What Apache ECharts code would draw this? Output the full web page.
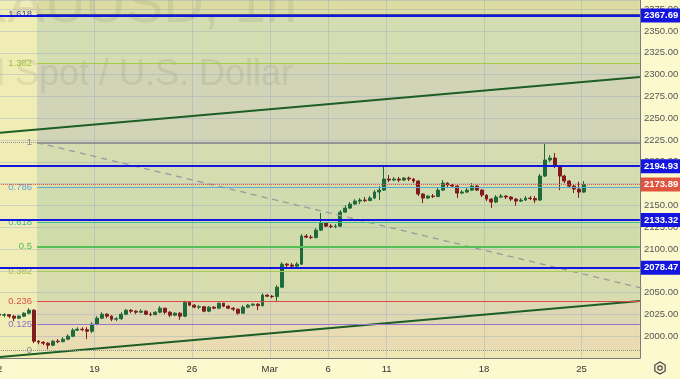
<!DOCTYPE html>
<html><head><meta charset="utf-8">
<script src="https://cdn.jsdelivr.net/npm/echarts@6/dist/echarts.min.js"></script>
<style>html,body{margin:0;padding:0;background:#fdf9ce}#c{width:680px;height:379px}</style>
</head><body><div id="c"></div>
<script>
// ---- data ----
const tickDays   = [0, 5, 10, 14, 17, 20, 25, 30];
const tickLabels = ['12', '19', '26', 'Mar', '6', '11', '18', '25'];
const yTicks = { min: 1975, max: 2385.5, step: 25 };
const SLOTS = 132, SLOTS_PER_DAY = 4;

const opens = [2025.2,2024.1,2024.7,2023.0,2020.7,2023.0,2026.4,2029.8,1994.3,1993.1,
1992.0,1989.7,1994.3,1993.7,1996.6,2000.0,2006.9,2008.0,2007.5,2005.7,
2013.8,2020.7,2025.2,2023.0,2019.5,2020.1,2025.2,2029.8,2028.7,2027.5,
2028.7,2025.2,2024.7,2027.5,2032.1,2027.5,2024.1,2026.4,2023.0,2039.0,
2035.6,2033.3,2033.8,2028.7,2033.3,2032.1,2037.9,2034.4,2032.1,2031.0,
2026.4,2033.3,2035.6,2036.7,2035.0,2047.1,2045.9,2045.4,2056.2,2082.6,
2081.5,2080.3,2082.6,2114.8,2113.6,2113.1,2121.6,2129.7,2126.2,2125.6,
2126.2,2142.3,2146.9,2151.5,2154.9,2156.1,2155.5,2158.4,2165.3,2167.5,
2180.2,2179.0,2180.2,2179.0,2181.3,2180.2,2177.9,2163.0,2158.4,2160.7,
2160.1,2167.5,2175.6,2173.3,2172.1,2164.1,2165.3,2167.5,2172.1,2167.5,
2161.8,2157.2,2153.8,2159.5,2160.7,2159.5,2157.2,2154.9,2156.1,2158.4,
2157.8,2156.1,2183.6,2202.0,2204.3,2195.1,2183.6,2177.9,2172.1,2168.7,
2165.3];
const closes = [2024.1,2024.7,2023.0,2020.7,2023.0,2026.4,2029.8,1994.3,1993.1,1992.0,
1989.7,1994.3,1993.7,1996.6,2000.0,2006.9,2008.0,2007.5,2005.7,2013.8,
2020.7,2025.2,2023.0,2019.5,2020.1,2025.2,2029.8,2028.7,2027.5,2028.7,
2025.2,2024.7,2027.5,2032.1,2027.5,2024.1,2026.4,2023.0,2039.0,2035.6,
2033.3,2033.8,2028.7,2033.3,2032.1,2037.9,2034.4,2032.1,2031.0,2026.4,
2033.3,2035.6,2036.7,2035.0,2047.1,2045.9,2045.4,2056.2,2082.6,2081.5,
2080.3,2082.6,2114.8,2113.6,2113.1,2121.6,2129.7,2126.2,2125.6,2126.2,
2142.3,2146.9,2151.5,2154.9,2156.1,2155.5,2158.4,2165.3,2167.5,2180.2,
2179.0,2180.2,2179.0,2181.3,2180.2,2177.9,2163.0,2158.4,2160.7,2160.1,
2167.5,2175.6,2173.3,2172.1,2164.1,2165.3,2167.5,2172.1,2167.5,2161.8,
2157.2,2153.8,2159.5,2160.7,2159.5,2157.2,2154.9,2156.1,2158.4,2157.8,
2156.1,2183.6,2202.0,2204.3,2195.1,2183.6,2177.9,2172.1,2168.7,2165.3,
2173.89];
const highs = [2026.4,2026.4,2025.2,2024.1,2024.1,2027.5,2032.1,2031.0,1995.4,1994.3,
1993.1,1995.4,1996.6,1998.9,2002.3,2009.2,2010.3,2010.3,2010.3,2016.1,
2023.0,2027.5,2026.4,2024.1,2021.8,2027.5,2031.0,2031.0,2029.8,2031.0,
2029.8,2027.5,2028.7,2034.4,2032.7,2028.7,2027.5,2027.5,2040.7,2040.2,
2036.7,2035.6,2034.4,2034.4,2034.4,2038.4,2038.2,2035.6,2033.3,2031.5,
2035.6,2036.7,2037.9,2037.9,2049.3,2048.2,2047.1,2058.5,2084.9,2083.8,
2083.8,2084.9,2117.1,2117.1,2115.9,2123.9,2141.2,2130.8,2128.5,2128.5,
2144.6,2150.3,2153.8,2157.2,2158.4,2159.5,2160.7,2167.5,2172.1,2195.1,
2184.8,2182.5,2182.5,2182.5,2183.0,2181.3,2179.0,2164.0,2161.8,2163.0,
2169.8,2179.0,2176.5,2174.4,2173.3,2167.5,2169.8,2175.6,2173.3,2168.7,
2162.5,2158.4,2161.8,2163.0,2161.8,2160.7,2158.4,2158.4,2160.7,2160.7,
2160.7,2185.9,2222.0,2207.7,2210.0,2196.0,2185.0,2179.0,2174.4,2177.1,
2177.9];
const lows = [2023.0,2021.8,2020.7,2017.2,2019.5,2021.8,2025.2,1992.0,1990.8,1989.7,
1985.1,1988.5,1992.0,1993.1,1995.4,1998.9,2005.7,2005.7,1996.6,2003.4,
2012.6,2019.5,2020.7,2017.2,2017.2,2018.4,2024.1,2026.4,2025.2,2026.4,
2024.1,2023.0,2024.1,2026.4,2025.2,2021.8,2023.0,2018.9,2021.8,2034.4,
2032.1,2031.0,2027.5,2027.5,2031.0,2031.0,2033.3,2031.0,2028.7,2024.7,
2025.8,2032.1,2034.4,2029.8,2034.0,2044.8,2043.6,2039.0,2055.1,2079.2,
2079.2,2079.2,2081.5,2112.5,2111.3,2112.0,2120.5,2125.1,2123.9,2123.9,
2125.1,2141.2,2145.7,2150.5,2151.5,2153.8,2154.9,2157.2,2156.1,2166.5,
2176.7,2177.9,2176.7,2177.9,2177.9,2175.6,2160.7,2152.6,2157.2,2158.4,
2159.5,2166.4,2171.0,2169.8,2158.4,2163.0,2164.1,2166.4,2166.4,2159.5,
2154.9,2146.9,2152.5,2158.4,2157.2,2154.9,2149.5,2153.8,2155.0,2156.1,
2152.6,2154.9,2182.5,2199.7,2192.8,2167.5,2175.6,2169.8,2164.1,2158.7,
2164.1];

const fibZero = 1983.5, fibOne = 2222.0;
const fibRatios = [0, 0.125, 0.236, 0.382, 0.5, 0.618, 0.786, 1, 1.382, 1.618];
const fibLabels = ['0', '0.125', '0.236', '0.382', '0.5', '0.618', '0.786', '1', '1.382', '1.618'];
const fibAnchorA = [8.2, 2222.0];     // slot, price
const fibAnchorB = [185.7, 1983.5];
const keyLevels = [2367.69, 2194.93, 2133.32, 2078.47];
const lastPrice = 2173.89;
const trendUpper = [[0, 2233.0], [132, 2297.1]];
const trendLower = [[0, 1975.9], [132, 2040.4]];

// ---- styles ----
const fibLineColors  = ['#8f8f8f','#9575cd','#e04848','#a6cc55','#55c055','#3dbf9c','#5aaad6','#959595','#a6cc40','#3c4a98'];
const fibLabelColors = ['#888888','#8f70cc','#e05050','#a0c050','#4fc04f','#3ab4a0','#58a2d8','#888888','#a0c040','#3c4a98'];
const fibLineWidths  = [1, 1, 1, 1, 2, 1, 1, 2, 1, 1];
const fibLineTypes   = ['dotted','solid','solid','solid','solid','solid','solid','solid','solid','solid'];
const bandColors = ['#e9dcb2','#ded7b4','#d7dcae','#d3dcaa','#cfdcaa','#d1dcae','#d5dcb0','#d1d4b6','#d4dcb2','#dcdca2'];
const belowColor = '#eee7b4', leftStripColor = '#f0ecb6';
const gridLineColor = 'rgba(150,165,195,0.38)';

const fibPrice = r => fibZero + (fibOne - fibZero) * r;
const fibX = fibAnchorA[0];

const candles = opens.map((o, i) => [i + 0.5, o, closes[i], lows[i], highs[i]]);

// fills
const areas = [];
areas.push([{ coord: [0, yTicks.min], itemStyle: { color: leftStripColor } }, { coord: [fibX, yTicks.max] }]);
areas.push([{ coord: [fibX, yTicks.min], itemStyle: { color: belowColor } }, { coord: [SLOTS, fibPrice(0)] }]);
for (let k = 0; k < fibRatios.length; k++) {
  const lo = fibPrice(fibRatios[k]);
  const hi = k + 1 < fibRatios.length ? fibPrice(fibRatios[k + 1]) : yTicks.max;
  areas.push([{ coord: [fibX, lo], itemStyle: { color: bandColors[k] } }, { coord: [SLOTS, hi] }]);
}

const vLines = tickDays.map(d => ({ xAxis: d * SLOTS_PER_DAY }));

const fibLines = fibRatios.map((r, k) => [
  { coord: [fibX, fibPrice(r)],
    lineStyle: { color: fibLineColors[k], width: fibLineWidths[k], type: fibLineTypes[k] },
    label: { show: true, position: 'start', formatter: fibLabels[k], color: fibLabelColors[k], fontSize: 9.5, distance: 5 } },
  { coord: [SLOTS, fibPrice(r)] }
]);
[0, 1].forEach(r => fibLines.push([
  { coord: [0, fibPrice(r)], lineStyle: { color: '#8f8f8f', width: 1, type: 'dotted' }, label: { show: false } },
  { coord: [fibX, fibPrice(r)] }
]));

const levelLines = keyLevels.map(v => ({
  yAxis: v,
  lineStyle: { color: '#1515e0', width: 2, type: 'solid' },
  label: { show: true, position: 'end', distance: 1, formatter: v.toFixed(2), color: '#fff', fontWeight: 'bold',
           fontSize: 9.5, backgroundColor: '#1515e0', padding: [2, 3, 2, 3] }
}));
levelLines.push({
  yAxis: lastPrice,
  lineStyle: { color: '#e0553f', width: 1, type: 'dotted' },
  label: { show: true, position: 'end', distance: 1, formatter: lastPrice.toFixed(2), color: '#fff', fontWeight: 'bold',
           fontSize: 9.5, backgroundColor: '#e0553f', padding: [2, 3, 2, 3] }
});

const hex = [];
for (let k = 0; k < 6; k++) { const a = Math.PI / 6 + k * Math.PI / 3; hex.push([660 + 6 * Math.cos(a), 368 + 6 * Math.sin(a)]); }

const chart = echarts.init(document.getElementById('c'), null, { renderer: 'canvas' });
chart.setOption({
  animation: false,
  backgroundColor: '#fdf9ce',
  grid: { left: -2.9, right: 40.1, top: 0, bottom: 21, containLabel: false, outerBoundsMode: 'none' },
  xAxis: {
    type: 'value', min: 0, max: SLOTS, interval: SLOTS_PER_DAY, z: 2,
    axisLine: { show: true, onZero: false, lineStyle: { color: '#7a7a7a', width: 1 } },
    axisTick: { show: false }, splitLine: { show: false },
    axisLabel: { fontSize: 9.5, color: '#333', margin: 6, fontFamily: 'Liberation Sans, Arial, sans-serif',
      formatter: v => { const i = tickDays.indexOf(v / SLOTS_PER_DAY); return i >= 0 ? tickLabels[i] : ''; } }
  },
  yAxis: {
    type: 'value', position: 'right', min: yTicks.min, max: yTicks.max, interval: yTicks.step, z: 2,
    axisLine: { show: true, onZero: false, lineStyle: { color: '#7a7a7a', width: 1 } },
    axisTick: { show: false },
    splitLine: { show: true, lineStyle: { color: gridLineColor, width: 1 } },
    axisLabel: { fontSize: 9.5, color: '#555', margin: 4, fontFamily: 'Liberation Sans, Arial, sans-serif',
      formatter: v => (v % yTicks.step === 0 && v >= 2000) ? v.toFixed(2) : '' }
  },
  graphic: [
    { type: 'text', z: 2, silent: true, style: { text: 'XAUUSD, 1h', x: 297, y: 35, textAlign: 'right', textVerticalAlign: 'bottom',
      font: '56px "Liberation Sans", Arial, sans-serif', fill: 'rgba(110,110,90,0.14)' } },
    { type: 'text', z: 2, silent: true, style: { text: 'Gold Spot / U.S. Dollar', x: 293, y: 93, textAlign: 'right', textVerticalAlign: 'bottom',
      font: '36px "Liberation Sans", Arial, sans-serif', fill: 'rgba(110,110,90,0.14)' } },
    { type: 'polygon', z: 10, silent: true, shape: { points: hex }, style: { fill: 'none', stroke: '#444', lineWidth: 1.2 } },
    { type: 'circle', z: 10, silent: true, shape: { cx: 660, cy: 368, r: 2.2 }, style: { fill: 'none', stroke: '#444', lineWidth: 1.2 } }
  ],
  series: [
    { type: 'line', name: 'bg', data: [], silent: true, clip: false,
      markArea: { z: 1, silent: true, data: areas },
      markLine: { z: 2, silent: true, symbol: 'none', label: { show: false }, lineStyle: { color: gridLineColor, width: 1, type: 'solid' }, data: vLines } },
    { type: 'candlestick', name: 'XAUUSD', z: 3, barWidth: 3.4, data: candles,
      itemStyle: { color: '#1f6a3a', color0: '#821c1c', borderColor: '#1f6a3a', borderColor0: '#821c1c', borderWidth: 1 } },
    { type: 'line', name: 'trendUpper', z: 4, data: trendUpper, symbol: 'none', silent: true, lineStyle: { color: '#1d5e26', width: 2 } },
    { type: 'line', name: 'trendLower', z: 4, data: trendLower, symbol: 'none', silent: true, lineStyle: { color: '#1d5e26', width: 2 } },
    { type: 'line', name: 'fibTrend', z: 4, data: [fibAnchorA, fibAnchorB], symbol: 'none', silent: true,
      lineStyle: { color: '#9a9a9a', width: 1.3, type: [6, 5] } },
    { type: 'line', name: 'fib', data: [], silent: true, clip: false,
      markLine: { z: 5, silent: true, symbol: 'none', data: fibLines } },
    { type: 'line', name: 'levels', data: [], silent: true, clip: false,
      markLine: { z: 6, silent: true, symbol: 'none', data: levelLines } }
  ]
});
</script></body></html>
